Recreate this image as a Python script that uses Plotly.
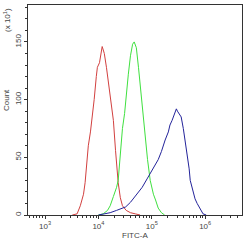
import plotly.graph_objects as go

# Data: log10(FITC-A) positions and counts (x10)
red_log = [3.51, 3.60, 3.66, 3.72, 3.75, 3.81, 3.85, 3.88, 3.92, 3.96, 3.98, 4.02, 4.04, 4.06, 4.07, 4.09, 4.11, 4.15, 4.19, 4.24, 4.28, 4.32, 4.34, 4.37, 4.41, 4.45, 4.52, 4.60, 4.69, 4.78]
red_cnt = [0, 1, 8, 18, 28, 60, 72, 82, 100, 120, 128, 132, 138, 140, 146, 143, 140, 128, 114, 100, 82, 56, 42, 28, 15, 8, 4, 2, 1, 0]

green_log = [4.00, 4.09, 4.17, 4.22, 4.28, 4.34, 4.37, 4.41, 4.45, 4.49, 4.52, 4.56, 4.60, 4.64, 4.67, 4.71, 4.75, 4.79, 4.82, 4.84, 4.88, 4.92, 4.97, 5.03, 5.07, 5.12, 5.18, 5.24]
green_cnt = [0, 1, 4, 8, 16, 24, 30, 56, 75, 88, 105, 122, 138, 148, 150, 145, 128, 110, 92, 82, 65, 48, 30, 18, 13, 6, 2, 0]

blue_log = [4.00, 4.11, 4.22, 4.34, 4.41, 4.51, 4.60, 4.67, 4.75, 4.82, 4.92, 4.97, 5.05, 5.12, 5.18, 5.21, 5.25, 5.31, 5.34, 5.38, 5.42, 5.46, 5.48, 5.51, 5.55, 5.59, 5.63, 5.66, 5.70, 5.72, 5.76, 5.81, 5.85, 5.91, 5.96, 6.02]
blue_cnt = [0, 1, 2, 4, 5, 7, 11, 15, 19, 24, 32, 36, 42, 48, 55, 60, 65, 72, 78, 82, 88, 92, 90, 88, 85, 75, 63, 54, 40, 30, 22, 14, 10, 5, 1, 0]

x_tick_vals = [1e3, 1e4, 1e5, 1e6]
x_tick_text = ["10<sup>3</sup>", "10<sup>4</sup>", "10<sup>5</sup>", "10<sup>6</sup>"]
y_tick_vals = [0, 50, 100, 150]

minor_x = [m * 10 ** e for e in range(2, 7) for m in range(2, 10)]

fig = go.Figure()
for lg, cnt, col in [(red_log, red_cnt, "#d2403f"), (green_log, green_cnt, "#3fe03f"), (blue_log, blue_cnt, "#23239a")]:
    fig.add_trace(go.Scatter(x=[10 ** v for v in lg], y=cnt, mode="lines",
                             line=dict(color=col, width=1), showlegend=False, hoverinfo="skip"))

W, H = 250, 241
l, r, t, b = 28, 8, 5, 26
pw, ph = W - l - r, H - t - b

fig.update_layout(
    width=W, height=H,
    margin=dict(l=l, r=r, t=t, b=b),
    paper_bgcolor="white", plot_bgcolor="white",
    font=dict(family="Liberation Sans, Arial", size=8, color="#444"),
    xaxis=dict(type="log", range=[2.68, 6.69], showgrid=False, zeroline=False,
               tickmode="array", tickvals=x_tick_vals, ticktext=x_tick_text,
               ticks="outside", ticklen=3, tickcolor="#333",
               showline=True, linecolor="#333", linewidth=1, mirror=True,
               minor=dict(tickvals=minor_x, ticks="outside", ticklen=2, tickcolor="#333"),
               tickfont=dict(size=8, color="#444")),
    yaxis=dict(range=[0, 182], showgrid=False, zeroline=False,
               tickmode="array", tickvals=y_tick_vals, tickangle=-90,
               ticks="outside", ticklen=3, tickcolor="#333",
               showline=True, linecolor="#333", linewidth=1, mirror=True,
               minor=dict(dtick=10, tick0=0, ticks="outside", ticklen=2, tickcolor="#333"),
               tickfont=dict(size=8, color="#444")),
)

def px_to_paper(px, py):
    return (px - l) / pw, (H - b - py) / ph

for text, px, py, ang in [("FITC-A", l + pw / 2, 235, 0), ("Count", 7, 100, -90), ("(x 10<sup>1</sup>)", 7, 20, -90)]:
    xp, yp = px_to_paper(px, py)
    fig.add_annotation(text=text, x=xp, y=yp, xref="paper", yref="paper", showarrow=False,
                       xanchor="center", yanchor="middle", textangle=ang,
                       font=dict(size=8, color="#444"))

fig.write_html("out.html")
